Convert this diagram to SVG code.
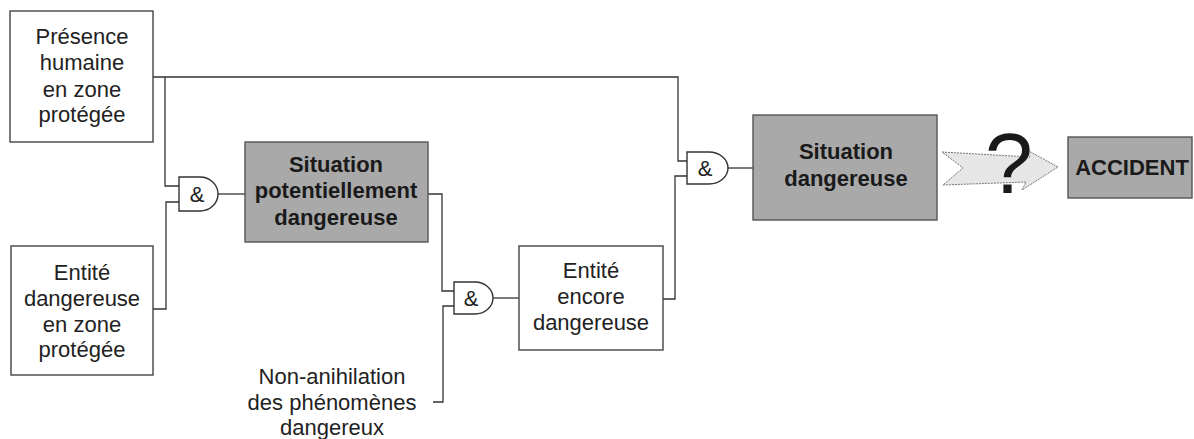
<svg xmlns="http://www.w3.org/2000/svg" width="1194" height="439" viewBox="0 0 1194 439">
<style>
  .box { fill: #ffffff; stroke: #444; stroke-width: 1.4; }
  .dark { fill: #a9a9a9; stroke: #555; stroke-width: 1.4; }
  .gate { fill: #ffffff; stroke: #333; stroke-width: 1.4; }
  .wire { fill: none; stroke: #333; stroke-width: 1.3; }
  .t { font-family: "Liberation Sans", Arial, sans-serif; font-size: 22px; fill: #222; text-anchor: middle; }
  .b { font-family: "Liberation Sans", Arial, sans-serif; font-size: 22px; font-weight: bold; fill: #1a1a1a; text-anchor: middle; }
  .amp { font-family: "Liberation Sans", Arial, sans-serif; font-size: 22px; fill: #222; text-anchor: middle; }
</style>
<rect width="1194" height="439" fill="#ffffff"/>

<g id="connectors">
  <path class="wire" d="M153,77 H678 V161 H687"/>
  <path class="wire" d="M165,77 V186 H179"/>
  <path class="wire" d="M153,309 H166 V202 H179"/>
  <path class="wire" d="M218,194 H245"/>
  <path class="wire" d="M428,194 H442 V291 H454"/>
  <path class="wire" d="M433,402 H443 V306 H454"/>
  <path class="wire" d="M493,298 H519"/>
  <path class="wire" d="M663,299 H675 V176 H687"/>
  <path class="wire" d="M728,168 H753"/>
</g>

<g id="n-presence">
  <rect class="box" x="10" y="11" width="143" height="131"/>
  <text class="t" x="82" y="44">Présence</text>
  <text class="t" x="82" y="70">humaine</text>
  <text class="t" x="82" y="97">en zone</text>
  <text class="t" x="82" y="122">protégée</text>
</g>

<g id="n-entite">
  <rect class="box" x="11" y="246" width="142" height="129"/>
  <text class="t" x="82" y="280">Entité</text>
  <text class="t" x="82" y="306">dangereuse</text>
  <text class="t" x="82" y="332">en zone</text>
  <text class="t" x="82" y="357">protégée</text>
</g>

<g id="gate1">
  <path class="gate" d="M179,177 H200 A18,17 0 0 1 200,211 H179 Z"/>
  <text class="amp" x="197" y="202">&amp;</text>
</g>

<g id="n-potentielle">
  <rect class="dark" x="245" y="142" width="183" height="100"/>
  <text class="b" x="336" y="172">Situation</text>
  <text class="b" x="336" y="198">potentiellement</text>
  <text class="b" x="336" y="225">dangereuse</text>
</g>

<g id="gate2">
  <path class="gate" d="M454,282 H475 A18,16 0 0 1 475,314 H454 Z"/>
  <text class="amp" x="471" y="306">&amp;</text>
</g>

<g id="n-nonanihilation">
  <text class="t" x="332" y="384">Non-anihilation</text>
  <text class="t" x="332" y="410">des phénomènes</text>
  <text class="t" x="332" y="435">dangereux</text>
</g>

<g id="n-encore">
  <rect class="box" x="519" y="246" width="144" height="104"/>
  <text class="t" x="591" y="278">Entité</text>
  <text class="t" x="591" y="304">encore</text>
  <text class="t" x="591" y="330">dangereuse</text>
</g>

<g id="gate3">
  <path class="gate" d="M687,152 H709 A19,16 0 0 1 709,184 H687 Z"/>
  <text class="amp" x="705" y="176">&amp;</text>
</g>

<g id="n-situation">
  <rect class="dark" x="753" y="115" width="184" height="105"/>
  <text class="b" x="846" y="159">Situation</text>
  <text class="b" x="846" y="186">dangereuse</text>
</g>

<g id="n-arrow">
  <polygon points="942,152 1030,157 1027,150 1058,167 1022,190 1026,182 943,185 963,168" fill="#e6e6e6" stroke="#777" stroke-width="1" stroke-dasharray="2,1"/>
  <text x="1009" y="193" font-family="Liberation Sans, Arial, sans-serif" font-size="86" fill="#1a1a1a" text-anchor="middle">?</text>
</g>

<g id="n-accident">
  <rect class="dark" x="1068" y="137" width="124" height="61"/>
  <text class="b" x="1132" y="175" font-size="21">ACCIDENT</text>
</g>
</svg>
